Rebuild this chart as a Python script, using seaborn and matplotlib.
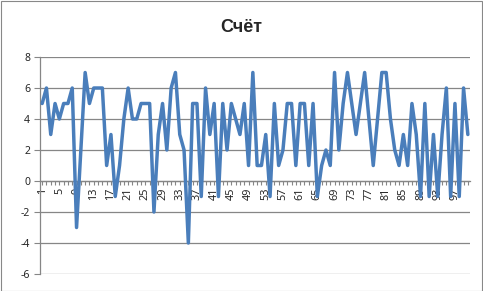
import matplotlib
matplotlib.use("Agg")
import matplotlib.pyplot as plt
import seaborn as sns
import pandas as pd
import numpy as np
from matplotlib.patches import Rectangle
from matplotlib.ticker import MultipleLocator, FixedLocator

title = "Счёт"
points = list(range(1, 101))
scores = [5, 6, 3, 5, 4, 5, 5, 6, -3, 2,
          7, 5, 6, 6, 6, 1, 3, -1, 1, 4,
          6, 4, 4, 5, 5, 5, -2, 3, 5, 2,
          6, 7, 3, 2, -4, 5, 5, -1, 6, 3,
          5, -1, 5, 2, 5, 4, 3, 5, 1, 7,
          1, 1, 3, -1, 5, 1, 2, 5, 5, 1,
          5, 5, 1, 5, -1, 1, 2, 1, 7, 2,
          5, 7, 5, 3, 5, 7, 4, 1, 4, 7,
          7, 4, 2, 1, 3, 1, 5, 3, -1, 5,
          -1, 3, -1, 3, 6, -1, 5, -1, 6, 3]
x_tick_labels = list(range(1, 101, 4))
y_ticks = [-6, -4, -2, 0, 2, 4, 6, 8]

df = pd.DataFrame({"point": points, "score": scores})

sns.set_style("white")
plt.rcParams['font.family'] = ['Noto Sans', 'DejaVu Sans']
plt.rcParams['axes.unicode_minus'] = False

W, H = 483, 291
fig = plt.figure(figsize=(W / 100, H / 100), dpi=100)
ax = fig.add_axes([40 / W, (H - 274) / H, 430 / W, 217 / H])

grid_c = "#868686"
for yv in y_ticks:
    ax.axhline(yv, color=grid_c, lw=0.9, zorder=0)

sns.lineplot(data=df, x="point", y="score", ax=ax, color="#4A7EBB",
             linewidth=2.5, zorder=3)

ax.set_xlim(0.5, 100.5)
ax.set_ylim(-6, 8)
ax.set_yticks(y_ticks)
ax.set_yticklabels([str(v) for v in y_ticks], fontsize=7.5)

ax.spines['top'].set_visible(False)
ax.spines['right'].set_visible(False)
ax.spines['left'].set_color(grid_c)
ax.spines['left'].set_linewidth(0.9)
ax.spines['bottom'].set_position(('data', 0))
ax.spines['bottom'].set_color(grid_c)
ax.spines['bottom'].set_linewidth(0.9)

ax.xaxis.set_major_locator(FixedLocator(x_tick_labels))
ax.set_xticklabels([str(v) for v in x_tick_labels], rotation=90, fontsize=7.8)
ax.xaxis.set_minor_locator(MultipleLocator(1))
ax.tick_params(axis='x', which='both', direction='out', length=3,
               color=grid_c, width=0.8, pad=2, bottom=True)
ax.tick_params(axis='y', direction='out', length=4, color=grid_c,
               width=0.8, pad=3, left=True)
for lbl in ax.get_xticklabels():
    lbl.set_verticalalignment('top')

ax.set_xlabel("")
ax.set_ylabel("")
ax.set_facecolor("white")

fig.text(0.5, 1 - 27 / H, title, ha='center', va='center',
         fontsize=13, fontweight='bold', family=['Liberation Sans', 'DejaVu Sans'])

fig.patches.append(Rectangle((0.5 / W, 0.5 / H), 1 - 1.5 / W, 1 - 1.5 / H,
                             transform=fig.transFigure, fill=False,
                             edgecolor="#888888", lw=0.8))

fig.savefig("out.png", dpi=100)
